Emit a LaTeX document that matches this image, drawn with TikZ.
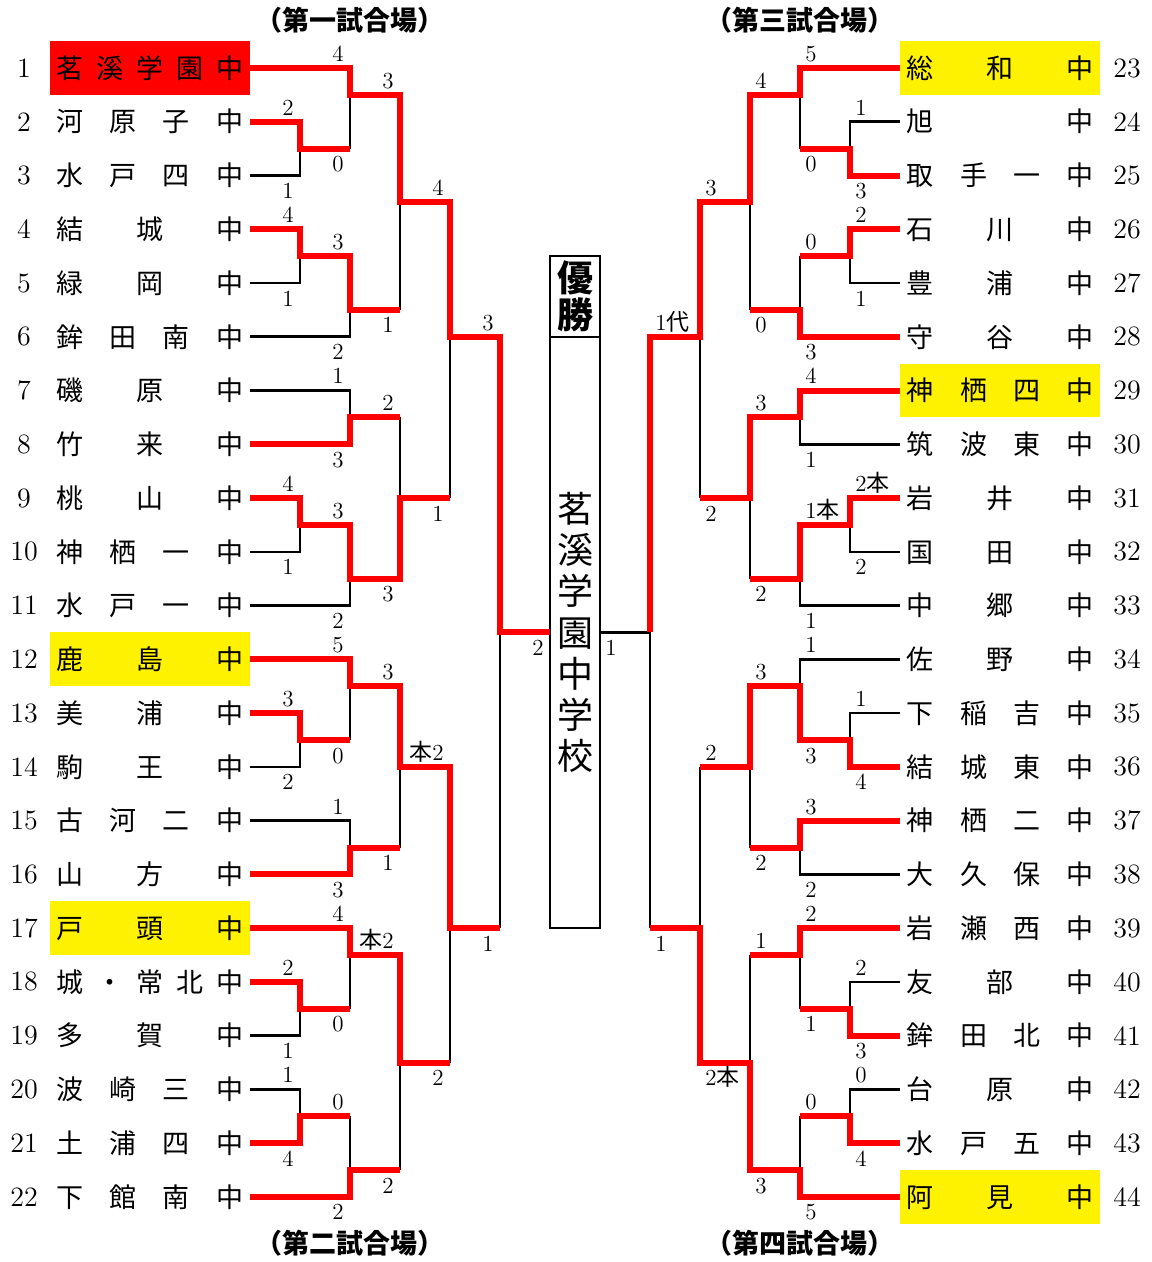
\documentclass[tikz,border=0pt]{standalone}
\usepackage{fontspec}
\newfontfamily\jp{Noto Sans CJK JP}
\newcommand\hon{{\jp 本}}
\newcommand\dai{{\jp 代}}
% spread the characters of a school name over the cell
\def\spr#1{\sprA#1\relax}
\def\sprA#1#2{#1\ifx\relax#2\else\hfill\expandafter\sprA\fi#2}
\newcommand\tmname[1]{\makebox[93.5pt]{\expandafter\spr\expandafter{#1}}}
\tikzset{
  win/.style={red, line width=3pt},
  lose/.style={black, line width=1.3pt},
  tmL/.style={anchor=east, font=\jp\fontsize{13.5}{14}\selectfont, inner xsep=3.25pt, inner ysep=0pt, minimum height=26.88pt},
  tmR/.style={tmL, anchor=west},
  num/.style={font=\fontsize{14}{16}\selectfont},
  sc/.style={font=\fontsize{11.5}{12}\selectfont, inner sep=0pt},
  la/.style={sc, anchor=base east, xshift=-3pt, yshift=3.3pt},
  lb/.style={sc, anchor=base east, xshift=-3pt, yshift=-11.5pt},
  ra/.style={sc, anchor=base west, xshift=2.5pt, yshift=3.3pt},
  rb/.style={sc, anchor=base west, xshift=2.5pt, yshift=-11.5pt},
  hd/.style={font=\jp\bfseries\fontsize{13.5}{15}\selectfont},
  cup/.style={draw, line width=0.9pt, inner sep=0pt, outer sep=0pt, minimum width=25pt, align=center, font=\jp\bfseries\fontsize{18}{18.5}\selectfont}
}
\begin{document}
\begin{tikzpicture}[x=0.5pt, y=-13.44pt]
  \useasboundingbox (0,-2.5298) rectangle (1151,44.4196);
  % headings
  \node[hd] (h1) at (350,-1.786) {（第一試合場）};
  \node[hd] (h2) at (350,43.71) {（第二試合場）};
  \node[hd] (h3) at (800,-1.786) {（第三試合場）};
  \node[hd] (h4) at (800,43.71) {（第四試合場）};
  % teams
  \foreach \n/\nm/\bg in {1/茗溪学園中/red, 2/河原子中/none, 3/水戸四中/none, 4/結城中/none,
      5/緑岡中/none, 6/鉾田南中/none, 7/磯原中/none, 8/竹来中/none, 9/桃山中/none,
      10/神栖一中/none, 11/水戸一中/none, 12/鹿島中/yellow, 13/美浦中/none, 14/駒王中/none,
      15/古河二中/none, 16/山方中/none, 17/戸頭中/yellow, 18/城・常北中/none, 19/多賀中/none,
      20/波崎三中/none, 21/土浦四中/none, 22/下館南中/none} {
    \node[tmL, fill=\bg] (L\n) at (250,{2*(\n-1)}) {\tmname{\nm}};
    \node[num] (N\n) at (24,{2*(\n-1)}) {\n};
  }
  \foreach \n/\nm/\bg in {23/総和中/yellow, 24/旭中/none, 25/取手一中/none, 26/石川中/none,
      27/豊浦中/none, 28/守谷中/none, 29/神栖四中/yellow, 30/筑波東中/none, 31/岩井中/none,
      32/国田中/none, 33/中郷中/none, 34/佐野中/none, 35/下稲吉中/none, 36/結城東中/none,
      37/神栖二中/none, 38/大久保中/none, 39/岩瀬西中/none, 40/友部中/none, 41/鉾田北中/none,
      42/台原中/none, 43/水戸五中/none, 44/阿見中/yellow} {
    \node[tmR, fill=\bg] (R\n) at (900,{2*(\n-23)}) {\tmname{\nm}};
    \node[num] (N\n) at (1127,{2*(\n-23)}) {\n};
  }
  % champion
  \node[cup, minimum height=40.32pt] (yusho) at (575,8.5) {優\\勝};
  \node[cup, minimum height=295.68pt, font=\jp\fontsize{18}{20.6}\selectfont] (champ) at (575,21) {茗\\溪\\学\\園\\中\\学\\校};
  % lost games
  \draw[lose] (L3.east) -| (300,3) (350,1) -- (350,3) (L5.east) -| (300,7) (L6.east) -| (350,9)
    (400,5) -- (400,9) (450,10) -- (450,16) (L7.east) -| (350,13) (400,13) -- (400,16)
    (L10.east) -| (300,17) (L11.east) -| (350,19) (500,21) -- (500,32);
  \draw[lose] (L14.east) -| (300,25) (350,23) -- (350,25) (L15.east) -| (350,29) (400,26) -- (400,29)
    (450,32) -- (450,37) (L19.east) -| (300,35) (350,33) -- (350,35) (L20.east) -| (300,39)
    (350,39) -- (350,41) (400,37) -- (400,41);
  \draw[lose] (R24.west) -| (850,3) (800,1) -- (800,3) (R27.west) -| (850,7) (800,7) -- (800,9)
    (750,5) -- (750,9) (700,10) -- (700,16) (R30.west) -| (800,13) (750,16) -- (750,19)
    (R32.west) -| (850,17) (R33.west) -| (800,19) (champ.east) -| (650,32);
  \draw[lose] (R34.west) -| (800,23) (R35.west) -| (850,25) (750,26) -- (750,29) (R38.west) -| (800,29)
    (700,26) -- (700,32) (750,33) -- (750,37) (R40.west) -| (850,35) (800,33) -- (800,35)
    (R42.west) -| (850,39) (800,39) -- (800,41);
  % won games
  \draw[win] (L1.east) -| (350,1) -| (400,5) -| (450,10) -| (500,21) -- (champ.west);
  \draw[win] (L2.east) -| (300,3) -- (350,3);
  \draw[win] (L4.east) -| (300,7) -| (350,9) -- (400,9);
  \draw[win] (L8.east) -| (350,13) -- (400,13);
  \draw[win] (L9.east) -| (300,17) -| (350,19) -| (400,16) -- (450,16);
  \draw[win] (L12.east) -| (350,23) -| (400,26) -| (450,32) -- (500,32);
  \draw[win] (L13.east) -| (300,25) -- (350,25);
  \draw[win] (L16.east) -| (350,29) -- (400,29);
  \draw[win] (L17.east) -| (350,33) -| (400,37) -- (450,37);
  \draw[win] (L18.east) -| (300,35) -- (350,35);
  \draw[win] (L21.east) -| (300,39) -- (350,39);
  \draw[win] (L22.east) -| (350,41) -- (400,41);
  \draw[win] (R23.west) -| (800,1) -| (750,5) -| (700,10) -| (650,21);
  \draw[win] (R25.west) -| (850,3) -- (800,3);
  \draw[win] (R26.west) -| (850,7) -- (800,7);
  \draw[win] (R28.west) -| (800,9) -- (750,9);
  \draw[win] (R29.west) -| (800,13) -| (750,16) -- (700,16);
  \draw[win] (R31.west) -| (850,17) -| (800,19) -- (750,19);
  \draw[win] (R36.west) -| (850,25) -| (800,23) -| (750,26) -- (700,26);
  \draw[win] (R37.west) -| (800,29) -- (750,29);
  \draw[win] (R39.west) -| (800,33) -- (750,33);
  \draw[win] (R41.west) -| (850,35) -- (800,35);
  \draw[win] (R43.west) -| (850,39) -- (800,39);
  \draw[win] (R44.west) -| (800,41) -| (750,37) -| (700,32) -- (650,32);
  % scores
  \foreach \x/\k/\s/\p in {350/0/4/la, 300/2/2/la, 400/1/3/la, 300/6/4/la, 350/7/3/la, 450/5/4/la,
      500/10/3/la, 350/12/1/la, 400/13/2/la, 300/16/4/la, 350/17/3/la, 350/22/5/la, 400/23/3/la,
      300/24/3/la, 450/26/\hon2/la, 350/28/1/la, 350/32/4/la, 400/33/\hon2/la, 300/34/2/la,
      300/38/1/la, 350/39/0/la,
      350/3/0/lb, 300/4/1/lb, 300/8/1/lb, 400/9/1/lb, 350/10/2/lb, 350/14/3/lb, 450/16/1/lb,
      300/18/1/lb, 400/19/3/lb, 350/20/2/lb, 550/21/2/lb, 350/25/0/lb, 300/26/2/lb, 400/29/1/lb,
      350/30/3/lb, 500/32/1/lb, 350/35/0/lb, 300/36/1/lb, 450/37/2/lb, 300/40/4/lb, 400/41/2/lb,
      350/42/2/lb,
      800/0/5/ra, 750/1/4/ra, 850/2/1/ra, 700/5/3/ra, 850/6/2/ra, 800/7/0/ra, 650/10/1\dai/ra,
      800/12/4/ra, 750/13/3/ra, 850/16/2\hon/ra, 800/17/1\hon/ra, 800/22/1/ra, 850/24/1/ra,
      750/23/3/ra, 700/26/2/ra, 800/28/3/ra, 800/32/2/ra, 750/33/1/ra, 850/34/2/ra, 850/38/0/ra,
      800/39/0/ra,
      800/3/0/rb, 850/4/3/rb, 850/8/1/rb, 750/9/0/rb, 800/10/3/rb, 800/14/1/rb, 700/16/2/rb,
      850/18/2/rb, 750/19/2/rb, 800/20/1/rb, 600/21/1/rb, 850/26/4/rb, 800/25/3/rb, 750/29/2/rb,
      800/30/2/rb, 650/32/1/rb, 800/35/1/rb, 850/36/3/rb, 700/37/2\hon/rb, 750/41/3/rb,
      850/40/4/rb, 800/42/5/rb}
    \node[\p] (s-\x-\k) at (\x,\k) {\s};
\end{tikzpicture}
\end{document}
